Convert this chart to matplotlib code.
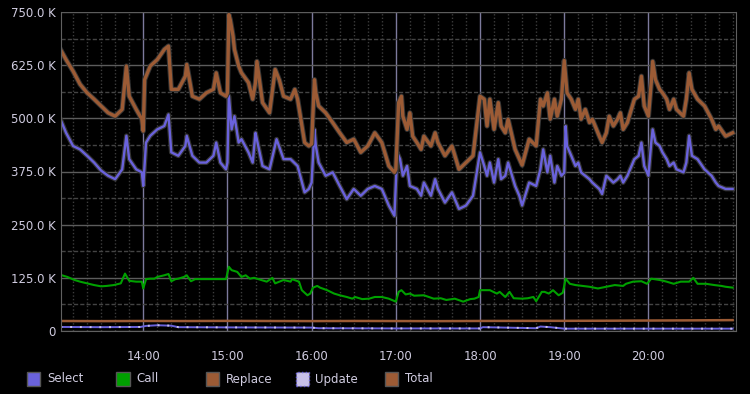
import matplotlib
matplotlib.use('Agg')
import matplotlib.pyplot as plt
import matplotlib.patheffects as pe
from matplotlib.patches import Rectangle
from matplotlib.ticker import MultipleLocator, FuncFormatter

# times are minutes after 13:00, values in thousands
total_t = [1, 5, 10, 15, 20, 25, 30, 35, 40, 45, 48, 50, 55, 59, 60, 61, 65, 70, 75, 78,
           80, 85, 90, 91, 95, 100, 105, 110, 112, 115, 119, 120, 121, 122, 124, 125, 128, 130,
           135, 138, 140, 141, 145, 150, 154, 157, 160, 165, 168, 170, 175, 178, 180, 182, 183,
           185, 190, 195, 200, 205, 210, 215, 220, 225, 230, 235, 239, 240, 242, 244, 245, 248,
           250, 252, 255, 258, 260, 265, 268, 270, 275, 280, 285, 290, 295, 300, 303, 305, 307,
           310, 313, 315, 318, 320, 325, 330, 335, 340, 343, 345, 348, 350, 353, 355, 358, 360,
           362, 365, 368, 370, 372, 375, 378, 380, 385, 387, 390, 392, 395, 398, 400, 402, 405,
           410, 413, 415, 417, 420, 422, 423, 425, 428, 430, 433, 435, 438, 440, 445, 447, 449,
           451, 455, 460, 465, 468, 470, 475, 480]
total_v = [662, 638, 611, 580, 560, 545, 529, 513, 505, 521, 623, 552, 521, 498, 470, 591,
           623, 638, 662, 670, 568, 568, 599, 627, 552, 545, 560, 568, 607, 560, 552, 560, 744,
           732, 693, 662, 623, 607, 584, 545, 584, 634, 537, 513, 615, 590, 552, 545, 568, 545,
           443, 435, 440, 591, 560, 529, 513, 490, 466, 443, 451, 420, 435, 466, 443, 388, 373,
           380, 537, 552, 505, 474, 513, 458, 443, 427, 458, 435, 466, 443, 412, 435, 380, 396,
           412, 552, 545, 482, 545, 474, 537, 482, 466, 498, 427, 390, 451, 435, 545, 529, 560,
           498, 545, 505, 545, 636, 560, 545, 521, 545, 498, 521, 490, 498, 458, 443, 466, 505,
           482, 498, 513, 474, 490, 545, 552, 599, 529, 505, 584, 634, 591, 568, 560, 545, 521,
           545, 521, 505, 545, 607, 568, 545, 529, 498, 474, 482, 458, 466]

select_t = [1, 5, 10, 15, 20, 25, 30, 35, 40, 45, 48, 50, 55, 59, 60, 62, 65, 70, 75, 78,
            80, 85, 90, 91, 95, 100, 105, 110, 112, 115, 119, 120, 121, 123, 125, 128, 130, 135,
            138, 140, 141, 145, 150, 155, 160, 165, 170, 175, 178, 180, 182, 183, 185, 190, 195,
            200, 205, 210, 215, 220, 225, 230, 235, 239, 241, 243, 245, 248, 250, 255, 258, 260,
            265, 268, 270, 275, 280, 285, 290, 295, 300, 303, 305, 307, 310, 313, 315, 318, 320,
            325, 328, 330, 335, 340, 343, 345, 348, 350, 353, 355, 358, 360, 361, 362, 365, 368,
            370, 372, 375, 378, 380, 385, 387, 390, 395, 398, 400, 402, 405, 410, 413, 415, 417,
            420, 422, 423, 425, 428, 430, 433, 435, 438, 440, 445, 447, 449, 451, 455, 460, 465,
            468, 470, 475, 480]
select_v = [498, 466, 435, 427, 412, 396, 377, 365, 357, 380, 459, 404, 380, 373, 341, 443,
            459, 474, 482, 509, 420, 412, 435, 459, 412, 396, 396, 412, 443, 396, 380, 396, 553,
            474, 505, 443, 451, 420, 396, 466, 450, 388, 380, 451, 404, 404, 388, 326, 334, 349,
            474, 435, 396, 365, 373, 341, 310, 334, 318, 334, 341, 334, 295, 271, 420, 404, 365,
            388, 341, 334, 318, 349, 318, 357, 334, 302, 326, 287, 295, 318, 420, 388, 365, 396,
            349, 404, 357, 365, 396, 341, 318, 295, 349, 341, 380, 427, 373, 412, 349, 388, 365,
            372, 482, 435, 412, 388, 396, 373, 365, 357, 349, 334, 322, 365, 349, 357, 365, 349,
            365, 404, 412, 443, 388, 365, 443, 474, 443, 435, 420, 404, 388, 396, 380, 373, 396,
            459, 412, 404, 380, 365, 349, 341, 334, 334]

call_t = [2, 6, 11, 15, 20, 25, 30, 34, 39, 44, 47, 50, 55, 59, 60, 62, 65, 68, 70, 75, 78,
          80, 83, 85, 89, 91, 94, 97, 102, 107, 113, 116, 119, 121, 123, 127, 130, 133, 136, 139,
          144, 148, 152, 154, 160, 165, 166, 171, 173, 177, 179, 181, 184, 186, 191, 196, 200,
          205, 209, 211, 216, 221, 225, 230, 235, 240, 242, 244, 247, 250, 253, 260, 267, 272,
          276, 282, 288, 293, 296, 299, 300, 307, 312, 314, 318, 321, 324, 330, 334, 338, 340,
          344, 346, 349, 352, 356, 359, 361, 364, 368, 373, 378, 384, 390, 396, 402, 404, 409,
          415, 419, 422, 428, 433, 438, 443, 449, 452, 455, 461, 467, 472, 475, 480]
call_v = [131, 127, 120, 116, 112, 108, 105, 106, 108, 112, 135, 118, 116, 116, 100, 122,
          123, 123, 127, 131, 134, 117, 122, 123, 127, 131, 117, 122, 122, 122, 122, 122, 122,
          151, 143, 139, 127, 131, 123, 125, 120, 116, 125, 112, 120, 116, 122, 116, 96, 84, 88,
          102, 106, 102, 96, 88, 84, 80, 76, 80, 75, 76, 80, 80, 76, 69, 92, 96, 86, 88, 83, 84,
          76, 77, 73, 76, 69, 75, 76, 80, 96, 96, 88, 92, 80, 92, 77, 76, 77, 80, 70, 92, 92, 88,
          96, 84, 90, 123, 111, 108, 106, 104, 100, 104, 108, 106, 111, 116, 117, 111, 123, 120,
          116, 111, 116, 116, 125, 111, 111, 108, 106, 104, 102]

replace_t = [1, 30, 60, 90, 120, 150, 180, 210, 240, 270, 300, 330, 360, 390, 420, 450, 480]
replace_v = [23.5, 23.2, 23.6, 23.4, 23.8, 23.5, 23.3, 23.6, 23.4, 23.2, 23.6, 23.8, 23.9,
             24.2, 24.6, 25.0, 25.6]

update_t = [1, 30, 58, 62, 70, 80, 85, 120, 180, 185, 240, 300, 302, 310, 340, 343, 350, 360, 420, 480]
update_v = [9.5, 9.0, 9.5, 12.0, 13.5, 12.5, 9.0, 8.5, 8.0, 6.5, 6.0, 6.0, 9.0, 8.5, 6.5,
            10.5, 9.0, 5.5, 5.5, 5.5]

hour_ticks = [60, 120, 180, 240, 300, 360, 420]
hour_labels = ['14:00', '15:00', '16:00', '17:00', '18:00', '19:00', '20:00']

legend_names = ['Select', 'Call', 'Replace', 'Update', 'Total']
legend_colors = ['#6a62dc', '#00a000', '#9c5b35', '#c8c0e8', '#9c5b35']

BG = '#000000'
TXT = '#d0cce0'

fig = plt.figure(figsize=(7.5, 3.94), dpi=100, facecolor=BG)
ax = fig.add_axes([61 / 750, 1 - 331 / 394, 675 / 750, 319 / 394], facecolor=BG)

ax.set_xlim(1.4, 482.4)
ax.set_ylim(0, 750)

# grid: dotted 10-minute lines, dashed half steps, solid hours / labelled values
ax.xaxis.set_major_locator(plt.FixedLocator(hour_ticks))
ax.xaxis.set_minor_locator(MultipleLocator(10))
ax.yaxis.set_major_locator(MultipleLocator(125))
ax.yaxis.set_minor_locator(MultipleLocator(62.5))
ax.grid(which='minor', axis='x', color='#3c3c3c', lw=1, ls=(0, (1, 1.5)))
ax.grid(which='major', axis='x', color='#7c7a9c', lw=1)
ax.grid(which='minor', axis='y', color='#444444', lw=1, ls=(0, (3, 1.5)))
ax.grid(which='major', axis='y', color='#5c5c5c', lw=1)
ax.set_axisbelow(True)

ax.set_xticklabels(hour_labels)
ax.yaxis.set_major_formatter(FuncFormatter(lambda v, p: '0' if v == 0 else '%.1f K' % v))
ax.tick_params(which='both', length=0, colors=TXT, labelsize=8.5)
ax.tick_params(axis='x', pad=14)
ax.tick_params(axis='y', pad=4)
for s in ax.spines.values():
    s.set_color('#606060')
ax.spines['top'].set_visible(False)

shadow = [pe.Stroke(linewidth=3.4, foreground='#333333'), pe.Normal()]
ax.plot(replace_t, replace_v, color='#9c5b35', lw=1.8)
ax.plot(update_t, update_v, color='#6a62dc', lw=1.4)
ax.plot(update_t, update_v, color='#c8c0e8', lw=1.4, ls=(0, (1, 4)))
ax.plot(call_t, call_v, color='#00a000', lw=1.5)
ax.plot(select_t, select_v, color='#6a62dc', lw=1.7, path_effects=shadow)
ax.plot(total_t, total_v, color='#9c5b35', lw=2.4,
        path_effects=[pe.Stroke(linewidth=3.8, foreground='#333333'), pe.Normal()])

# legend along the bottom
for i, (name, col) in enumerate(zip(legend_names, legend_colors)):
    x0 = 27 + 89.5 * i
    ls = ':' if name == 'Update' else '-'
    ec = '#6a62dc' if name == 'Update' else '#555555'
    fig.patches.append(Rectangle((x0 / 750, 1 - 386 / 394), 13 / 750, 14 / 394,
                                 transform=fig.transFigure, facecolor=col,
                                 edgecolor=ec, lw=1, ls=ls))
    fig.text((x0 + 20) / 750, 1 - 379 / 394, name, color=TXT, fontsize=8.5,
             va='center', ha='left')

fig.savefig('out.png', dpi=100, facecolor=BG)
